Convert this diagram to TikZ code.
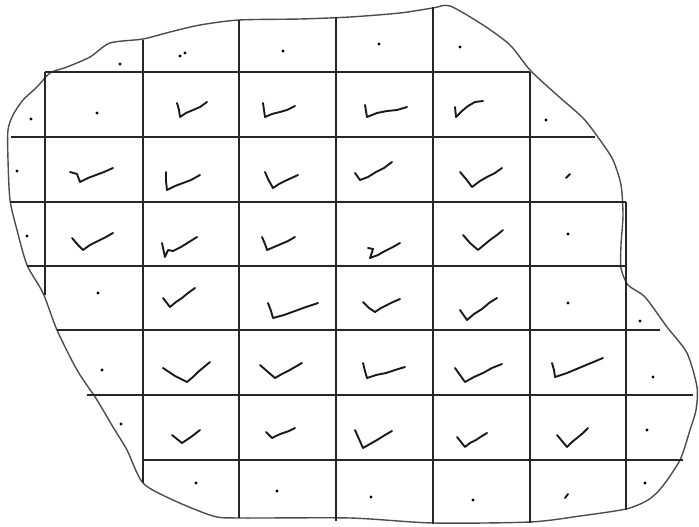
\documentclass[tikz,border=0pt]{standalone}
\begin{document}
\begin{tikzpicture}[x=1pt,y=-1pt,
  gridline/.style={line width=2.2pt,black!85},
  blob/.style={line width=1.4pt,black!70,line join=round},
  tick/.style={line width=1.9pt,black!90,line cap=round,line join=round},
  spot/.style={fill=black}]
\useasboundingbox (0,0) rectangle (699,527);
% outline
\draw[blob] plot[smooth cycle,tension=0.45] coordinates {
(450,6) (483,25) (510,45) (530,70) (557,95) (583,118) (600,140) (613,160) (621,185) (623,215) (621,245) (621,268) (628,285) (645,297) (667,327) (687,353) (697,387) (696,410) (690,430) (680,460) (662,487) (648,500) (626,509) (580,516) (530,522) (433,523) (350,518) (239,518) (213,516) (173,500) (143,483) (127,450) (113,427) (97,400) (77,370) (57,330) (43,293) (27,265) (17,230) (10,200) (8,160) (8,130) (13,115) (23,100) (37,87) (50,73) (67,67) (90,57) (110,43) (143,39) (170,32) (200,25) (239,20) (300,19) (350,17) (400,13) (433,8)};
% vertical lines
\draw[gridline] (45,72) -- (45,295);
\draw[gridline] (143,40) -- (143,483);
\draw[gridline] (239,20) -- (239,518);
\draw[gridline] (336,17) -- (336,521);
\draw[gridline] (433,7) -- (433,524);
\draw[gridline] (530,72) -- (530,523);
\draw[gridline] (626,202) -- (626,510);
% horizontal lines
\draw[gridline] (45,72) -- (530,72);
\draw[gridline] (11,137) -- (595,137);
\draw[gridline] (10,202) -- (626,202);
\draw[gridline] (27,266) -- (626,266);
\draw[gridline] (57,330) -- (660,330);
\draw[gridline] (87,395) -- (693,395);
\draw[gridline] (143,460) -- (683,460);
% dots
\foreach \p in {(120,64),(180,56),(185,53),(283,51),(379,44),(460,47),
  (31,119),(97,113),(546,120),
  (17,171),
  (27,236),(568,234),
  (98,293),(568,303),(640,321),
  (102,370),(653,377),
  (121,424),(647,430),
  (196,483),(277,491),(371,497),(473,500),(645,483)}
  \fill[spot] \p circle (1.7);
\draw[tick] (566,178) -- (570,174);
\draw[tick] (565,498) -- (568,494);
% ticks row 1
\draw[tick] (177,103) -- (179,110) -- (180,117) -- (186,113) -- (193,110) -- (200,107) -- (207,102);
\draw[tick] (263,103) -- (264,110) -- (265,117) -- (272,114) -- (280,112) -- (287,110) -- (295,106);
\draw[tick] (365,105) -- (366,111) -- (367,117) -- (377,113) -- (387,111) -- (397,110) -- (407,107);
\draw[tick] (483,101) -- (475,102) -- (468,106) -- (462,111) -- (456,117) -- (455,107);
% row 2
\draw[tick] (70,172) -- (77,174) -- (80,182) -- (88,178) -- (96,175) -- (104,172) -- (113,168);
\draw[tick] (166,172) -- (166,181) -- (167,190) -- (175,186) -- (183,183) -- (191,180) -- (200,175);
\draw[tick] (265,172) -- (268,179) -- (273,188) -- (279,184) -- (285,181) -- (298,175);
\draw[tick] (355,173) -- (360,180) -- (368,177) -- (376,172) -- (384,168) -- (392,162);
\draw[tick] (460,172) -- (466,179) -- (472,187) -- (480,181) -- (487,177) -- (495,173) -- (502,168);
% row 3
\draw[tick] (72,238) -- (78,245) -- (83,250) -- (90,245) -- (98,241) -- (106,237) -- (113,233);
\draw[tick] (162,243) -- (165,257) -- (168,250) -- (173,251) -- (181,247) -- (189,242) -- (197,237);
\draw[tick] (262,237) -- (265,244) -- (267,250) -- (274,247) -- (281,244) -- (288,241) -- (295,237);
\draw[tick] (368,248) -- (373,249) -- (370,258) -- (378,255) -- (385,251) -- (393,247) -- (400,243);
\draw[tick] (463,235) -- (470,243) -- (478,250) -- (484,245) -- (490,240) -- (497,235) -- (503,230);
% row 4
\draw[tick] (163,298) -- (170,307) -- (176,302) -- (182,298) -- (188,293) -- (195,288);
\draw[tick] (268,303) -- (271,311) -- (273,318) -- (284,315) -- (295,311) -- (306,307) -- (318,303);
\draw[tick] (363,302) -- (369,308) -- (375,312) -- (381,308) -- (387,305) -- (393,302) -- (400,299);
\draw[tick] (460,310) -- (467,320) -- (474,314) -- (482,309) -- (489,303) -- (497,298);
% row 5
\draw[tick] (163,368) -- (175,376) -- (187,382) -- (193,377) -- (198,372) -- (204,367) -- (210,362);
\draw[tick] (260,365) -- (268,372) -- (275,378) -- (282,374) -- (288,371) -- (295,367) -- (302,363);
\draw[tick] (363,363) -- (365,371) -- (367,378) -- (376,375) -- (386,373) -- (395,370) -- (405,367);
\draw[tick] (455,368) -- (460,375) -- (465,382) -- (474,377) -- (483,373) -- (492,368) -- (502,364);
\draw[tick] (552,363) -- (554,370) -- (555,377) -- (567,373) -- (579,368) -- (591,363) -- (603,358);
% row 6
\draw[tick] (172,435) -- (177,439) -- (182,443) -- (191,437) -- (200,430);
\draw[tick] (266,432) -- (272,438) -- (278,435) -- (283,433) -- (289,431) -- (295,428);
\draw[tick] (355,430) -- (359,439) -- (363,448) -- (370,444) -- (377,440) -- (385,435) -- (392,431);
\draw[tick] (457,437) -- (465,447) -- (470,443) -- (476,440) -- (482,436) -- (487,433);
\draw[tick] (557,435) -- (562,441) -- (567,447) -- (572,442) -- (577,438) -- (583,433) -- (588,428);
\end{tikzpicture}
\end{document}
